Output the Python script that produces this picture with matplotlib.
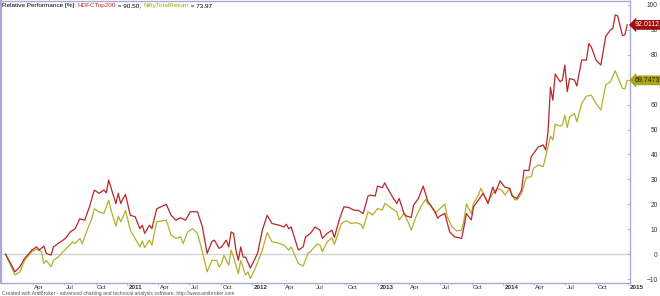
import numpy as np
import pandas as pd
import matplotlib
matplotlib.use("Agg")
import matplotlib.pyplot as plt
import matplotlib.transforms as mtransforms

plt.rcParams['font.family'] = ['Liberation Sans', 'DejaVu Sans']

# weekly data, week index counted from the first bar
start = pd.Timestamp("2010-01-11")

hdfc_week = [0, 4, 6, 8, 11, 13, 14, 16, 17, 19, 20, 22, 25, 27, 29, 31, 33, 35, 37, 39,
             41, 42, 43, 46, 47, 48, 49, 50, 52, 54, 56, 57, 58, 60, 61, 63, 67, 69, 71, 73,
             75, 77, 80, 82, 84, 86, 87, 89, 90, 92, 93, 94, 95, 96, 97, 98, 99, 100, 102, 105,
             107, 109, 111, 114, 116, 117, 118, 119, 122, 124, 125, 127, 129, 131, 132, 134, 136, 137, 139, 141,
             143, 145, 147, 149, 151, 152, 154, 155, 157, 158, 159, 161, 163, 164, 166, 167, 169, 170, 172, 174,
             176, 177, 179, 180, 181, 183, 185, 187, 190, 191, 192, 194, 195, 197, 199, 200, 201, 203, 204, 206,
             208, 210, 211, 213, 215, 216, 218, 219, 222, 224, 225, 226, 227, 228, 229, 231, 232, 233, 234, 235,
             237, 238, 240, 242, 243, 244, 246, 248, 250, 252, 253, 254, 255, 257, 258, 259]
hdfc_val = [0.0, -7.1, -5.1, -1.7, 1.6, 2.9, 1.6, 3.2, 0.3, -0.4, 2.9, 4.3, 6.3, 8.9, 10.2, 14.2, 13.6, 19.0, 25.7, 24.4,
            25.7, 24.6, 29.7, 20.3, 24.4, 20.3, 22.3, 23.9, 15.6, 15.0, 10.2, 11.6, 8.3, 11.6, 10.2, 18.2, 20.0, 15.6, 13.6, 14.6,
            13.6, 17.0, 17.0, 11.0, 0.3, 5.0, 5.6, 2.3, 2.9, 5.6, 2.9, 8.9, 8.3, 1.6, -2.5, 2.9, -1.2, -1.2, -5.6, 0.3,
            9.6, 15.6, 12.3, 11.6, 10.9, 12.0, 10.2, 10.9, 1.6, 2.9, 6.9, 8.3, 10.9, 9.6, 6.3, 8.3, 9.6, 6.7, 13.7, 19.0,
            18.7, 17.7, 17.5, 16.3, 23.3, 23.7, 23.3, 27.3, 26.7, 28.6, 26.7, 23.3, 20.3, 22.3, 16.3, 15.3, 14.7, 19.7, 22.3, 27.3,
            21.0, 19.7, 17.0, 14.4, 15.3, 16.3, 9.0, 7.0, 6.3, 11.0, 16.3, 13.7, 19.0, 21.7, 24.4, 22.3, 20.3, 26.9, 24.4, 29.4,
            26.9, 26.4, 23.3, 22.3, 25.7, 33.7, 33.5, 39.1, 43.1, 43.8, 41.8, 49.1, 66.9, 61.8, 72.3, 69.2, 69.9, 75.9, 65.2, 70.5,
            69.9, 67.5, 77.9, 77.9, 84.5, 83.2, 77.9, 75.9, 87.3, 90.0, 90.6, 96.0, 95.6, 87.7, 88.0, 92.0112]

nifty_week = [0, 4, 6, 8, 11, 13, 15, 16, 17, 19, 20, 22, 24, 26, 28, 29, 31, 32, 34, 36,
              37, 39, 41, 43, 44, 46, 47, 48, 49, 50, 52, 54, 56, 57, 58, 60, 61, 63, 67, 69,
              71, 73, 74, 76, 78, 80, 82, 84, 86, 88, 89, 90, 91, 93, 94, 95, 97, 98, 100, 101,
              102, 104, 107, 109, 111, 114, 116, 118, 119, 122, 124, 126, 127, 130, 131, 132, 134, 136, 137, 140,
              142, 144, 146, 148, 149, 151, 153, 155, 157, 158, 160, 163, 164, 166, 168, 169, 171, 173, 175, 176,
              177, 179, 181, 183, 184, 186, 188, 190, 191, 192, 194, 195, 197, 198, 200, 201, 203, 205, 207, 208,
              210, 212, 213, 215, 217, 219, 220, 222, 224, 226, 227, 228, 229, 231, 232, 233, 234, 235, 237, 238,
              240, 242, 244, 246, 248, 250, 252, 254, 257, 258, 259]
nifty_val = [0.0, -8.4, -7.1, -2.5, 1.0, 2.0, 1.0, -3.8, -2.5, -5.1, -2.5, -1.2, 1.0, 2.9, 4.9, 4.2, 6.3, 4.2, 9.6, 14.2,
             18.2, 16.9, 16.3, 21.6, 17.6, 11.2, 15.2, 13.0, 15.0, 17.6, 9.6, 6.3, 2.9, 5.3, 2.6, 5.6, 3.6, 13.0, 13.6, 7.6,
             6.3, 6.9, 4.2, 9.0, 10.2, 8.3, 1.0, -7.1, -2.5, -2.5, -5.1, -3.8, -0.5, -4.4, 1.6, -1.2, -7.9, -2.5, -8.4, -7.1,
             -9.8, -5.8, 1.6, 8.6, 5.0, 4.3, 3.6, 1.6, 2.9, -3.8, -4.8, 0.3, 1.0, 4.2, 3.6, 1.0, 4.9, 6.5, 3.9, 12.3,
             13.4, 12.3, 12.6, 12.0, 10.3, 17.0, 15.7, 18.3, 17.7, 20.3, 19.0, 17.0, 13.7, 16.3, 12.3, 9.6, 15.0, 19.0, 22.0, 20.1,
             19.7, 16.3, 18.3, 20.1, 15.0, 11.0, 9.3, 9.6, 13.7, 20.1, 16.3, 20.3, 23.7, 26.4, 22.3, 21.0, 24.4, 26.4, 25.4, 23.7,
             26.4, 22.0, 21.7, 24.4, 30.8, 31.1, 34.5, 35.8, 35.1, 43.1, 47.4, 45.8, 52.2, 51.4, 51.8, 55.8, 50.8, 55.1, 56.4, 53.1,
             60.5, 63.4, 63.8, 60.5, 57.8, 67.9, 69.2, 73.6, 66.5, 66.3, 69.7473]

tick_dates = ["2010-04-01", "2010-07-01", "2010-10-01", "2011-01-01", "2011-04-01", "2011-07-01", "2011-10-01",
              "2012-01-01", "2012-04-01", "2012-07-01", "2012-10-01", "2013-01-01", "2013-04-01", "2013-07-01",
              "2013-10-01", "2014-01-01", "2014-04-01", "2014-07-01", "2014-10-01", "2015-01-01"]
tick_labels = ["Apr", "Jul", "Oct", "2011", "Apr", "Jul", "Oct", "2012", "Apr", "Jul", "Oct", "2013",
               "Apr", "Jul", "Oct", "2014", "Apr", "Jul", "Oct", "2015"]

red = "#b8262b"
olive = "#b3b02c"
frame = "#a9a9d6"

hdfc_dates = start + pd.to_timedelta(np.array(hdfc_week) * 7, unit="D")
nifty_dates = start + pd.to_timedelta(np.array(nifty_week) * 7, unit="D")

fig = plt.figure(figsize=(6.6, 2.96), dpi=100)
ax = fig.add_axes([1 / 660, 13 / 296, 629 / 660, 282 / 296])

ax.axhline(0, color="#d4d4d4", lw=1.0, zorder=1)
ax.plot(nifty_dates, nifty_val, color=olive, lw=0.9, zorder=3)
ax.plot(hdfc_dates, hdfc_val, color=red, lw=0.9, zorder=4)

ax.set_xlim(pd.Timestamp("2009-12-29"), pd.Timestamp("2015-01-06"))
ax.set_ylim(-11.6, 101.6)

for s in ax.spines.values():
    s.set_color(frame)
    s.set_linewidth(1.0)
ax.spines["left"].set_linewidth(1.6)

ax.yaxis.tick_right()
ax.set_yticks(np.arange(-10, 101, 10))
ax.tick_params(axis="y", direction="in", length=2, width=0.6, color=frame,
               labelsize=4.8, pad=20, labelcolor="#333333")
for lab in ax.get_yticklabels():
    lab.set_horizontalalignment("right")

ax.set_xticks(pd.to_datetime(tick_dates))
ax.set_xticklabels(tick_labels)
ax.tick_params(axis="x", direction="out", length=1.5, width=0.6, color=frame,
               labelsize=4.5, pad=0.2, labelcolor="#333333")
off = mtransforms.ScaledTranslation(1.5 / 100, 0, fig.dpi_scale_trans)
for lab in ax.get_xticklabels():
    lab.set_horizontalalignment("left")
    lab.set_transform(lab.get_transform() + off)
    if lab.get_text().isdigit():
        lab.set_fontweight("bold")

# header with coloured names
t = fig.text(2 / 660, 1 - 6 / 296, "Relative Performance [%]: ", fontsize=4.6, va="center", color="black")
parts = [("HDFCTop200", red), (" = 90.50, ", "black"), ("NiftyTotalReturn", "#a5a200"), (" = 73.97", "black")]
for txt, col in parts:
    t = ax.annotate(txt, xy=(1, 0), xycoords=t, va="bottom", ha="left", fontsize=4.6, color=col,
                    annotation_clip=False)

# last value labels on the right axis
ax.annotate("92.0112", xy=(1.0, hdfc_val[-1]), xycoords=("axes fraction", "data"),
            xytext=(3, 0), textcoords="offset points", fontsize=5, color="white",
            va="center", ha="left", annotation_clip=False, zorder=10,
            bbox=dict(boxstyle="larrow,pad=0.2", fc="#a10d0d", ec="none"))
ax.annotate("69.7473", xy=(1.0, nifty_val[-1]), xycoords=("axes fraction", "data"),
            xytext=(3, 0), textcoords="offset points", fontsize=5, color="#222200",
            va="center", ha="left", annotation_clip=False, zorder=10,
            bbox=dict(boxstyle="larrow,pad=0.2", fc="#a9a51a", ec="none"))

fig.text(2 / 660, 2.2 / 296, "Created with AmiBroker - advanced charting and technical analysis software. http://www.amibroker.com",
         fontsize=3.6, color="#555555", va="center")

fig.savefig("out.png", dpi=100)
